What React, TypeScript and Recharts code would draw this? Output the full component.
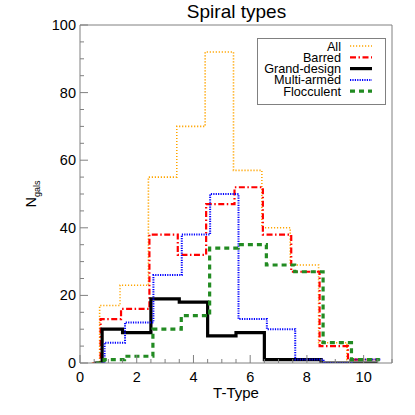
import React from "react";
import { LineChart, Line, XAxis, YAxis } from "recharts";

// bin edges (T-Type); first bin starts a little above 0.5
const edges = [0.5, 0.78, 1.5, 2.5, 3.5, 4.5, 5.5, 6.5, 7.5, 8.5, 9.5, 10.5];

// counts per T-Type bin 1..10
const allGals = [17, 23, 55, 70, 92, 57, 40, 29, 6, 1];
const barred = [13, 16, 38, 32, 47, 52, 38, 27, 5, 1];
const grandDesign = [10, 9, 19, 18, 8, 9, 1, 1, 0, 0];
const multiArmed = [6, 12, 26, 38, 50, 13, 10, 1, 0, 1];
const flocculent = [1, 2, 10, 14, 34, 35, 29, 27, 6, 1];

const xTicks = Array.from({ length: 23 }, (_, i) => i * 0.5);
const yTicks = Array.from({ length: 21 }, (_, i) => i * 5);

const FONT = "'Liberation Sans', Arial, Helvetica, sans-serif";
const AXIS = "#808080";

const toSteps = (counts: number[]) => {
  const rows = [{ x: edges[0], n: 0 }];
  counts.forEach((c, i) => rows.push({ x: edges[i + 1], n: c }));
  rows.push({ x: edges[edges.length - 1], n: counts[counts.length - 1] });
  return rows;
};

const series = [
  { name: "All", data: allGals, color: "#FFA500", width: 1.6, dash: "1.2 1.8", shift: -2.5 },
  { name: "Barred", data: barred, color: "#FF0000", width: 2.2, dash: "6 2.5 1.5 2.5", shift: -1.5 },
  { name: "Grand-design", data: grandDesign, color: "#000000", width: 3.2, dash: undefined, shift: 0 },
  { name: "Multi-armed", data: multiArmed, color: "#0000FF", width: 2, dash: "1.2 1.2", shift: 2.5 },
  { name: "Flocculent", data: flocculent, color: "#228B22", width: 3.2, dash: "5 4", shift: 2 },
];

const BottomTick = (props: any) => {
  const { x, y, payload } = props;
  const v = payload.value;
  const major = Math.abs(v % 2) < 1e-6;
  return (
    <g>
      <line x1={x} x2={x} y1={y} y2={y - (major ? 8 : 4)} stroke={AXIS} />
      {major && v <= 10 && (
        <text x={x} y={y + 19} textAnchor="middle" fontSize={14.5} fontFamily={FONT} fill="#000">
          {v}
        </text>
      )}
    </g>
  );
};

const TopTick = (props: any) => {
  const { x, y, payload } = props;
  const major = Math.abs(payload.value % 2) < 1e-6;
  return <line x1={x} x2={x} y1={y} y2={y + (major ? 8 : 4)} stroke={AXIS} />;
};

const LeftTick = (props: any) => {
  const { x, y, payload } = props;
  const v = payload.value;
  const major = v % 20 === 0;
  return (
    <g>
      <line x1={x} x2={x + (major ? 8 : 4)} y1={y} y2={y} stroke={AXIS} />
      {major && (
        <text x={x - 4} y={y + 5} textAnchor="end" fontSize={14.5} fontFamily={FONT} fill="#000">
          {v}
        </text>
      )}
    </g>
  );
};

const RightTick = (props: any) => {
  const { x, y, payload } = props;
  const major = payload.value % 20 === 0;
  return <line x1={x} x2={x - (major ? 8 : 4)} y1={y} y2={y} stroke={AXIS} />;
};

const LegendBox = () => (
  <svg width={130} height={68} style={{ display: "block" }}>
    <rect x={0.5} y={0.5} width={128} height={66} fill="#fff" stroke={AXIS} />
    {series.map((s, i) => {
      const cy = 8 + i * 11.3;
      return (
        <g key={s.name}>
          <text x={84} y={cy + 4.5} textAnchor="end" fontSize={12.7} fontFamily={FONT} fill="#000">
            {s.name}
          </text>
          <line x1={93} x2={115} y1={cy} y2={cy} stroke={s.color} strokeWidth={s.width} strokeDasharray={s.dash} />
        </g>
      );
    })}
  </svg>
);

export default function App() {
  return (
    <div style={{ position: "absolute", left: 0, top: 0, width: 415, height: 415, background: "#fff", fontFamily: FONT }}>
      <LineChart width={415} height={415} margin={{ top: 24, right: 22, bottom: 0, left: 0 }}>
        <XAxis
          xAxisId={0}
          type="number"
          dataKey="x"
          domain={[0, 11]}
          ticks={xTicks}
          interval={0}
          allowDataOverflow
          height={52}
          tickSize={0}
          tickMargin={0}
          tickLine={false}
          tick={<BottomTick />}
          axisLine={{ stroke: AXIS }}
        />
        <XAxis
          xAxisId="top"
          orientation="top"
          type="number"
          dataKey="x"
          domain={[0, 11]}
          ticks={xTicks}
          interval={0}
          height={1}
          tickSize={0}
          tickMargin={0}
          tickLine={false}
          tick={<TopTick />}
          axisLine={{ stroke: AXIS }}
        />
        <YAxis
          yAxisId={0}
          type="number"
          domain={[0, 100]}
          ticks={yTicks}
          interval={0}
          allowDataOverflow
          width={80}
          tickSize={0}
          tickMargin={0}
          tickLine={false}
          tick={<LeftTick />}
          axisLine={{ stroke: AXIS }}
        />
        <YAxis
          yAxisId="right"
          orientation="right"
          type="number"
          domain={[0, 100]}
          ticks={yTicks}
          interval={0}
          width={1}
          tickSize={0}
          tickMargin={0}
          tickLine={false}
          tick={<RightTick />}
          axisLine={{ stroke: AXIS }}
        />
        {series.map((s) => (
          <Line
            key={s.name}
            xAxisId={0}
            yAxisId={0}
            data={toSteps(s.data)}
            dataKey="n"
            name={s.name}
            type="stepAfter"
            stroke={s.color}
            strokeWidth={s.width}
            strokeDasharray={s.dash}
            dot={false}
            activeDot={false}
            isAnimationActive={false}
            style={{ transform: `translateX(${s.shift}px)` }}
          />
        ))}
      </LineChart>
      <div style={{ position: "absolute", left: 257, top: 38 }}>
        <LegendBox />
      </div>
      <div style={{ position: "absolute", left: 0, width: 415, top: 0, textAlign: "center", fontSize: 19, lineHeight: "24px", paddingLeft: 58, boxSizing: "border-box" }}>
        Spiral types
      </div>
      <div style={{ position: "absolute", left: 80, width: 312, top: 383, textAlign: "center", fontSize: 15, lineHeight: "20px" }}>
        T-Type
      </div>
      <div
        style={{
          position: "absolute",
          left: 34,
          top: 194,
          transform: "translate(-50%, -50%) rotate(-90deg)",
          fontSize: 14.5,
          lineHeight: "16px",
          whiteSpace: "nowrap",
        }}
      >
        N<sub style={{ fontSize: 9 }}>gals</sub>
      </div>
    </div>
  );
}
